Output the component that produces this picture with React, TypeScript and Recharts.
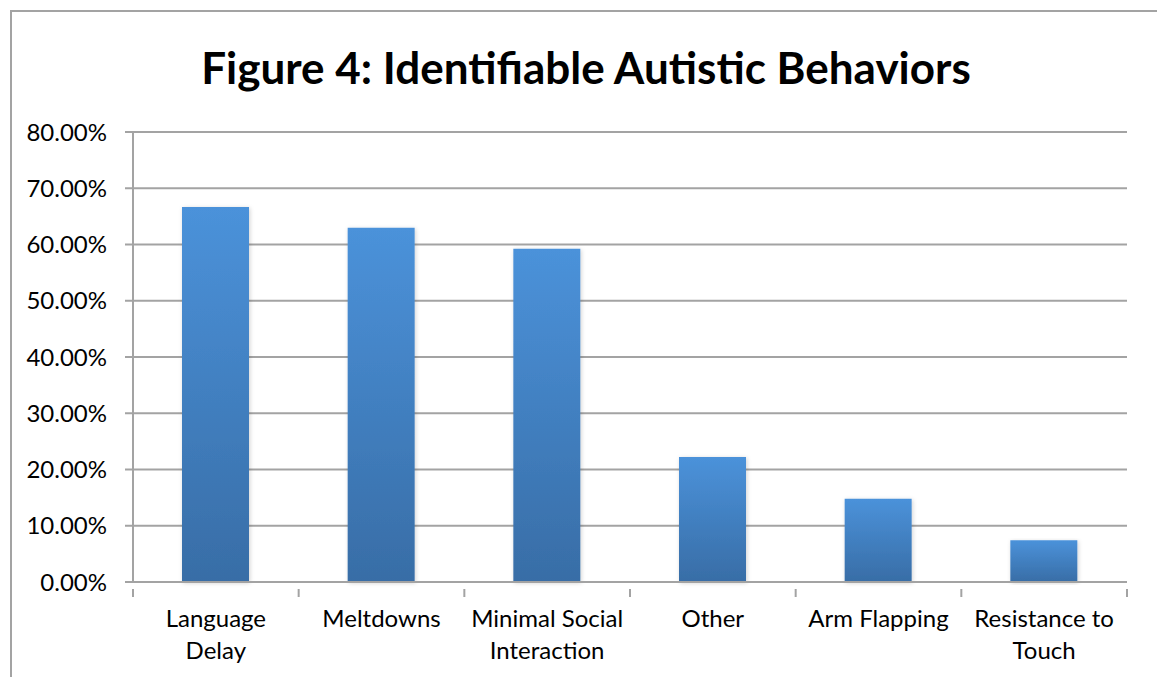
import { BarChart, Bar, XAxis, YAxis, CartesianGrid } from "recharts";

const categories = [
  "Language Delay",
  "Meltdowns",
  "Minimal Social Interaction",
  "Other",
  "Arm Flapping",
  "Resistance to Touch",
];

// share of respondents, in percent
const shares = [66.67, 62.96, 59.26, 22.22, 14.81, 7.41];

// how each category label wraps under the axis
const tickLines = [
  ["Language", "Delay"],
  ["Meltdowns"],
  ["Minimal Social", "Interaction"],
  ["Other"],
  ["Arm Flapping"],
  ["Resistance to", "Touch"],
];

const yTicks = [0, 10, 20, 30, 40, 50, 60, 70, 80];

const data = categories.map((name, i) => ({ name, share: shares[i] }));

const FONT = "Lato, 'Open Sans', sans-serif";
const GRID = "#a3a3a3";

function CategoryTick(props: any) {
  const { x, y, payload, index, visibleTicksCount } = props;
  const half = payload?.offset ?? 0;
  const lines = tickLines[index] ?? [payload.value];
  return (
    <g>
      <line x1={x - half} y1={y - 1} x2={x - half} y2={y + 7} stroke={GRID} strokeWidth={2} />
      {index === visibleTicksCount - 1 && (
        <line x1={x + half} y1={y - 1} x2={x + half} y2={y + 7} stroke={GRID} strokeWidth={2} />
      )}
      {lines.map((line: string, i: number) => (
        <text
          key={i}
          x={x}
          y={y + 37 + i * 32}
          textAnchor="middle"
          fontFamily={FONT}
          fontSize={24}
          fill="#000"
        >
          {line}
        </text>
      ))}
    </g>
  );
}

export default function App() {
  return (
    <div
      style={{
        position: "absolute",
        left: 0,
        top: 0,
        width: 1157,
        height: 677,
        background: "#fff",
        overflow: "hidden",
      }}
    >
      <div
        style={{
          position: "absolute",
          left: 10,
          top: 10,
          right: -10,
          bottom: -10,
          borderLeft: `2px solid ${GRID}`,
          borderTop: `2px solid ${GRID}`,
        }}
      />
      <div
        style={{
          position: "absolute",
          left: 0,
          width: 1172,
          top: 41,
          textAlign: "center",
          fontFamily: FONT,
          fontWeight: 700,
          fontSize: 44,
          lineHeight: "53px",
          color: "#000",
        }}
      >
        Figure 4: Identifiable Autistic Behaviors
      </div>
      <div style={{ position: "absolute", left: 0, top: 0 }}>
        <BarChart
          width={1157}
          height={677}
          data={data}
          margin={{ top: 132, right: 30, bottom: 15, left: 10 }}
        >
          <defs>
            <linearGradient id="barFill" x1="0" y1="0" x2="0" y2="1">
              <stop offset="0%" stopColor="#4B92DA" />
              <stop offset="100%" stopColor="#386DA6" />
            </linearGradient>
            <filter id="barShadow" x="-20%" y="-5%" width="140%" height="110%">
              <feDropShadow dx="1" dy="1" stdDeviation="2" floodColor="#000" floodOpacity="0.18" />
            </filter>
          </defs>
          <CartesianGrid vertical={false} stroke={GRID} strokeWidth={2} />
          <XAxis
            dataKey="name"
            height={80}
            interval={0}
            tickLine={false}
            axisLine={{ stroke: GRID, strokeWidth: 2 }}
            tick={<CategoryTick />}
          />
          <YAxis
            width={123}
            domain={[0, 80]}
            ticks={yTicks}
            interval={0}
            tickFormatter={(v: number) => `${v.toFixed(2)}%`}
            tickSize={8}
            tickMargin={18}
            axisLine={{ stroke: GRID, strokeWidth: 2 }}
            tickLine={{ stroke: GRID, strokeWidth: 2 }}
            tick={{ fontFamily: FONT, fontSize: 24, fill: "#000" }}
          />
          <Bar
            dataKey="share"
            barSize={67}
            fill="url(#barFill)"
            filter="url(#barShadow)"
            isAnimationActive={false}
          />
        </BarChart>
      </div>
    </div>
  );
}
